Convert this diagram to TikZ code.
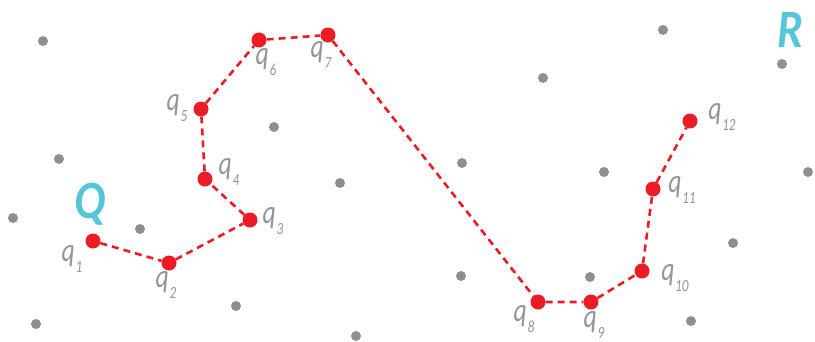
\documentclass[tikz,border=0pt]{standalone}
\usepackage{fontspec}
\newfontfamily\lblfont[FakeStretch=0.78]{Carlito}
\newfontfamily\bigfont[FakeStretch=0.85]{Carlito}
\definecolor{ptred}{HTML}{EC1C24}
\definecolor{ptgray}{HTML}{8E8F92}
\definecolor{lblgray}{HTML}{939598}
\definecolor{qcyan}{HTML}{55C5D9}
\newcommand\qlab[1]{q\kern0.6pt\raisebox{-0.34em}{\fontsize{17}{17}\selectfont #1}}
\tikzset{
  rdot/.style={circle,fill=ptred,minimum size=15pt,inner sep=0pt},
  gdot/.style={circle,fill=ptgray,minimum size=10pt,inner sep=0pt},
  lbl/.style={text=lblgray,font=\lblfont\itshape\fontsize{33}{33}\selectfont,inner sep=0pt},
  big/.style={text=qcyan,font=\bigfont\bfseries\itshape\fontsize{54}{54}\selectfont,inner sep=0pt},
  path/.style={draw=ptred,line width=2.6pt,dash pattern=on 7pt off 5pt}
}
\begin{document}
\begin{tikzpicture}[x=1pt,y=-1pt]
\useasboundingbox (0,0) rectangle (815,341);
% gray points
\foreach \x/\y [count=\i] in {43/41,59/159,13/218,140/229,36/324,236/306,274/127,340/183,356/336,
  462/163,461/276,543/78,604/172,590/277,663/30,691/321,733/243,782/64,808/172}
  \node[gdot] (g\i) at (\x,\y) {};
% red points
\node[rdot] (q1) at (93,241) {};
\node[rdot] (q2) at (169,263) {};
\node[rdot] (q3) at (250,220) {};
\node[rdot] (q4) at (205,179) {};
\node[rdot] (q5) at (201,109) {};
\node[rdot] (q6) at (259,40) {};
\node[rdot] (q7) at (328,35) {};
\node[rdot] (q8) at (538,302) {};
\node[rdot] (q9) at (591,302) {};
\node[rdot] (q10) at (642,271) {};
\node[rdot] (q11) at (653,189) {};
\node[rdot] (q12) at (690,121) {};
% path
\draw[path] (q1) -- (q2) -- (q3) -- (q4) -- (q5) -- (q6) -- (q7) -- (q8) -- (q9) -- (q10) -- (q11) -- (q12);
% labels
\node[lbl] (l1) at (72,259) {\qlab{1}};
\node[lbl] (l2) at (166,285) {\qlab{2}};
\node[lbl] (l3) at (273,221) {\qlab{3}};
\node[lbl] (l4) at (229,172) {\qlab{4}};
\node[lbl] (l5) at (177,108) {\qlab{5}};
\node[lbl] (l6) at (266,62) {\qlab{6}};
\node[lbl] (l7) at (321,55) {\qlab{7}};
\node[lbl] (l8) at (524,319) {\qlab{8}};
\node[lbl] (l9) at (594,325) {\qlab{9}};
\node[lbl] (l10) at (675,278) {\qlab{10}};
\node[lbl] (l11) at (682,190) {\qlab{11}};
\node[lbl] (l12) at (722,117) {\qlab{12}};
\node[big] (Q) at (90,204) {Q};
\node[big] (R) at (790,30) {R};
\end{tikzpicture}
\end{document}
